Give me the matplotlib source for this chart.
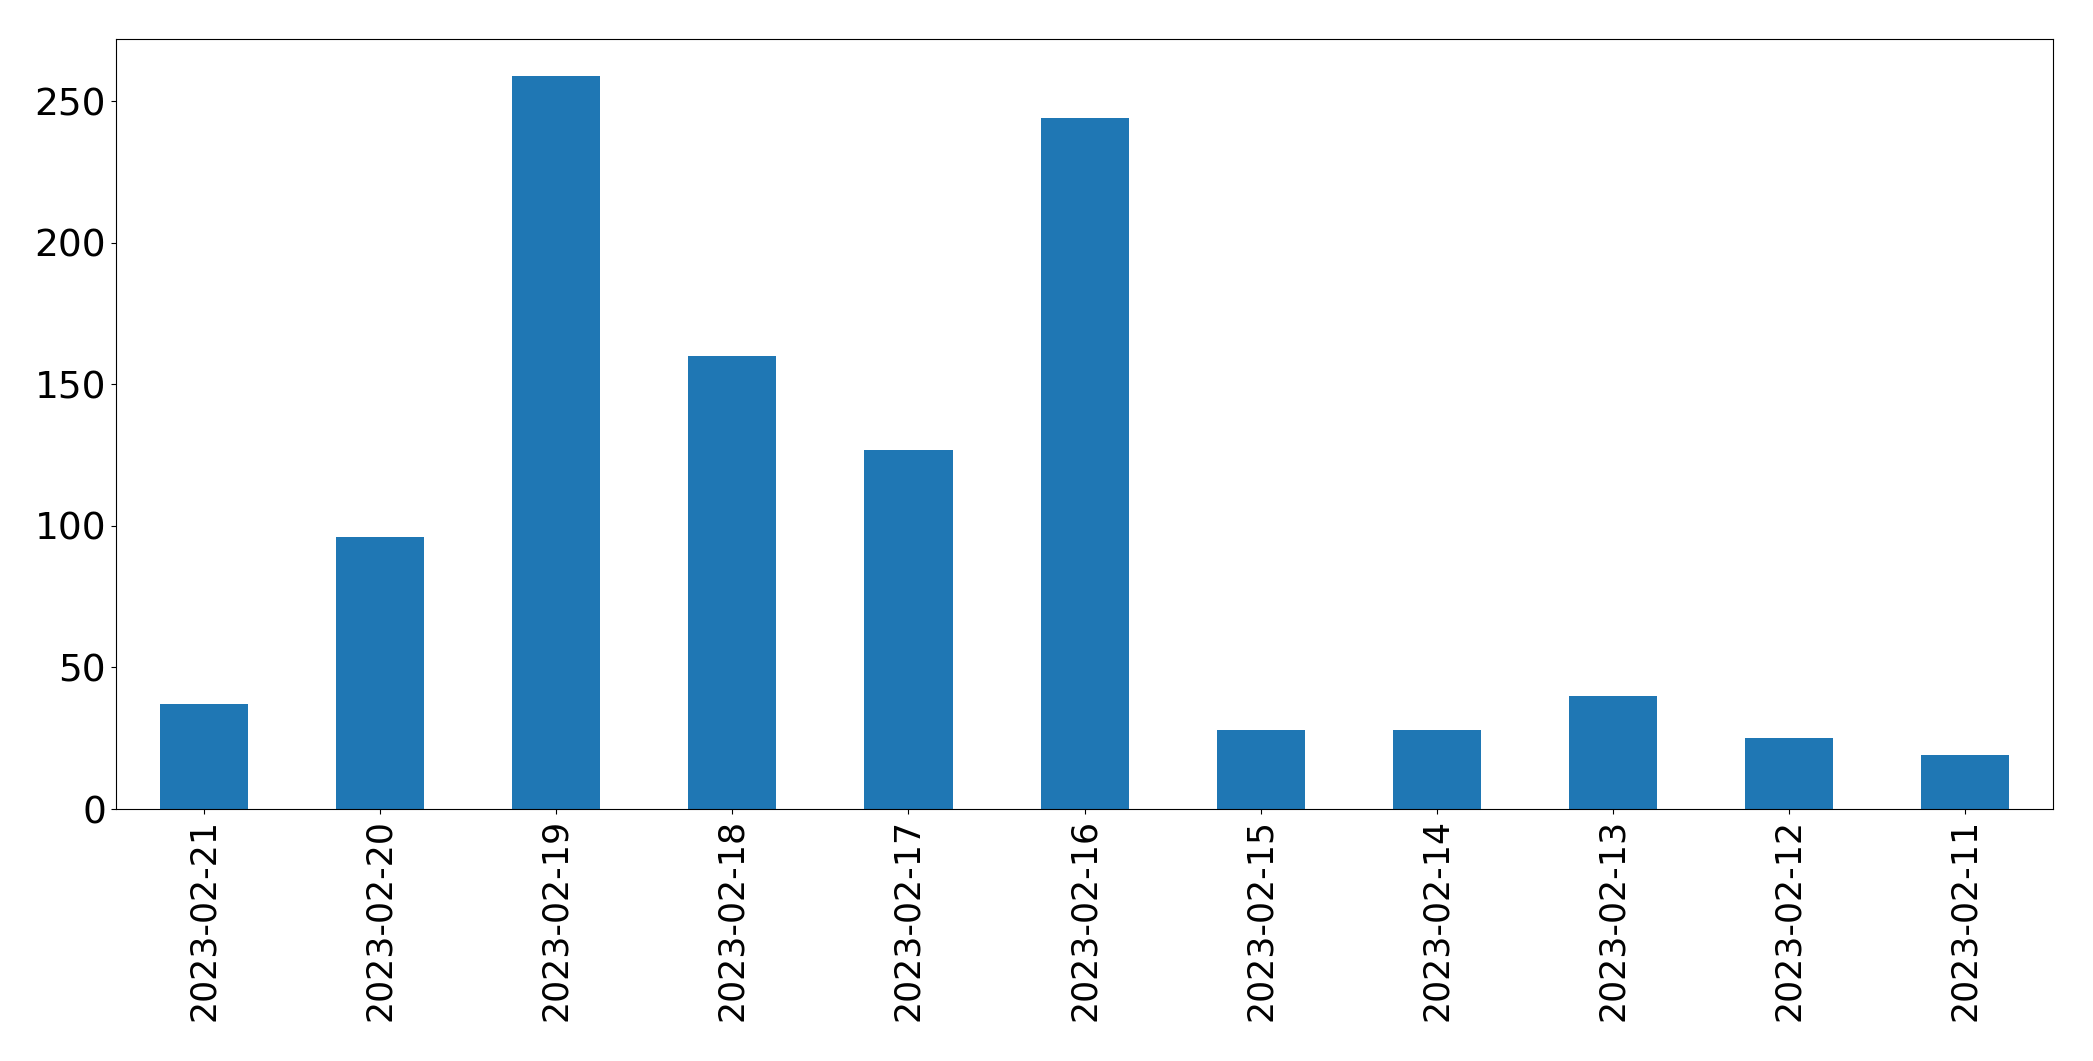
import matplotlib
matplotlib.use("Agg")
import matplotlib.pyplot as plt
import pandas as pd

dates = ["2023-02-21", "2023-02-20", "2023-02-19", "2023-02-18", "2023-02-17", "2023-02-16",
         "2023-02-15", "2023-02-14", "2023-02-13", "2023-02-12", "2023-02-11"]
counts = [37, 96, 259, 160, 127, 244, 28, 28, 40, 25, 19]

s = pd.Series(counts, index=dates)

fig, ax = plt.subplots(figsize=(20.93, 10.61), dpi=100)
s.plot(kind="bar", ax=ax, color="#1f77b4", width=0.5)
ax.tick_params(axis="y", labelsize=27)
ax.tick_params(axis="x", labelsize=25)
plt.subplots_adjust(left=0.0554, right=0.981, top=0.963, bottom=0.2375)
plt.savefig("out.png")
plt.close("all")
